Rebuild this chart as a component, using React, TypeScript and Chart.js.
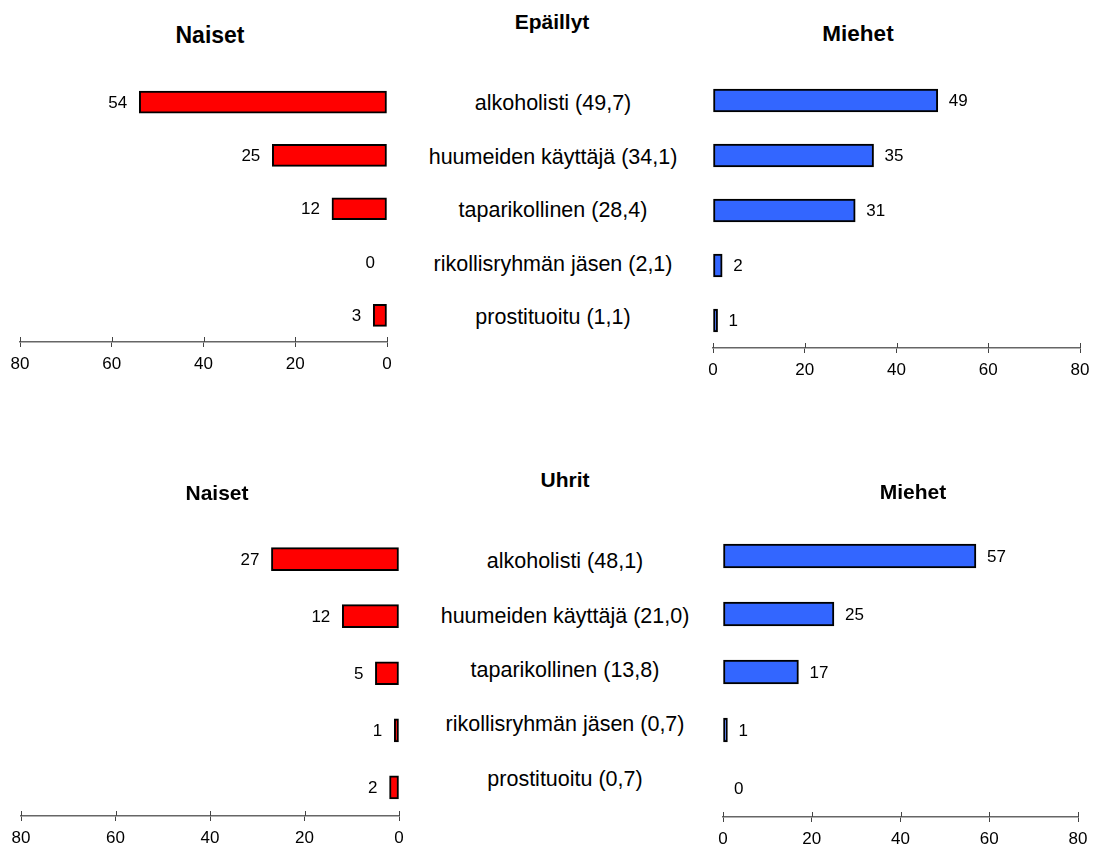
import React, { useEffect, useRef } from "react";
import { Chart, registerables } from "chart.js";

Chart.register(...registerables);

const categories = [
  "alkoholisti",
  "huumeiden käyttäjä",
  "taparikollinen",
  "rikollisryhmän jäsen",
  "prostituoitu",
];
const suspectsWomen = [54, 25, 12, 0, 3];
const suspectsMen = [49, 35, 31, 2, 1];
const suspectsShares = ["49,7", "34,1", "28,4", "2,1", "1,1"];
const victimsWomen = [27, 12, 5, 1, 2];
const victimsMen = [57, 25, 17, 1, 0];
const victimsShares = ["48,1", "21,0", "13,8", "0,7", "0,7"];
const axisMin = 0;
const axisMax = 80;
const axisStep = 20;

const FONT = "'Liberation Sans', Arial, Helvetica, sans-serif";
const RED = "#FF0000";
const BLUE = "#3366FF";

type Panel = {
  values: number[];
  color: string;
  reverse: boolean;
  canvas: { x: number; y: number; w: number; h: number };
  area: { left: number; right: number; top: number; bottom: number };
  thickness: number;
};

const AXIS_H = 28;

const valueLabels = {
  id: "valueLabels",
  afterDatasetsDraw(chart: any) {
    const ctx = chart.ctx;
    const meta = chart.getDatasetMeta(0);
    const data = chart.data.datasets[0].data as number[];
    const reverse = chart.options.scales.x.reverse;
    ctx.save();
    ctx.font = `17px ${FONT}`;
    ctx.fillStyle = "#000";
    ctx.textBaseline = "middle";
    meta.data.forEach((bar: any, i: number) => {
      if (reverse) {
        ctx.textAlign = "right";
        ctx.fillText(String(data[i]), bar.x - 12, bar.y + 1);
      } else {
        ctx.textAlign = "left";
        ctx.fillText(String(data[i]), bar.x + 11, bar.y + 1);
      }
    });
    ctx.restore();
  },
};

const tickUp = {
  id: "tickUp",
  afterDraw(chart: any) {
    const s = chart.scales.x;
    const ctx = chart.ctx;
    ctx.save();
    ctx.strokeStyle = "#444";
    ctx.lineWidth = 1;
    s.ticks.forEach((t: any) => {
      const px = Math.round(s.getPixelForValue(t.value)) + 0.5;
      ctx.beginPath();
      ctx.moveTo(px, s.top - 5);
      ctx.lineTo(px, s.top);
      ctx.stroke();
    });
    ctx.restore();
  },
};

function BarPanel({ p }: { p: Panel }) {
  const ref = useRef<HTMLCanvasElement>(null);
  useEffect(() => {
    if (!ref.current) return;
    const { canvas, area } = p;
    const chart = new Chart(ref.current, {
      type: "bar",
      data: {
        labels: categories,
        datasets: [
          {
            data: p.values,
            backgroundColor: p.color,
            borderColor: "#000",
            borderWidth: 2,
            borderSkipped: false,
            barThickness: p.thickness,
          },
        ],
      },
      options: {
        indexAxis: "y",
        responsive: false,
        animation: false,
        events: [],
        layout: {
          padding: {
            left: area.left - canvas.x,
            right: canvas.x + canvas.w - area.right,
            top: area.top - canvas.y,
            bottom: canvas.y + canvas.h - area.bottom - AXIS_H,
          },
        },
        plugins: {
          legend: { display: false },
          tooltip: { enabled: false },
          title: { display: false },
        },
        scales: {
          x: {
            min: axisMin,
            max: axisMax,
            reverse: p.reverse,
            ticks: {
              stepSize: axisStep,
              color: "#000",
              padding: 7,
              font: { family: FONT, size: 17 },
              maxRotation: 0,
            },
            grid: {
              drawOnChartArea: false,
              drawTicks: true,
              tickLength: 5,
              color: "#444",
              lineWidth: 1,
            },
            border: { display: true, color: "#666", width: 1.5 },
            afterFit: (s: any) => {
              s.height = AXIS_H;
            },
          },
          y: { display: false },
        },
      } as any,
      plugins: [valueLabels, tickUp],
    });
    return () => chart.destroy();
  }, [p]);
  return (
    <canvas
      ref={ref}
      width={p.canvas.w}
      height={p.canvas.h}
      style={{
        position: "absolute",
        left: p.canvas.x,
        top: p.canvas.y,
        width: p.canvas.w,
        height: p.canvas.h,
      }}
    />
  );
}

const panels: Panel[] = [
  {
    values: suspectsWomen,
    color: RED,
    reverse: true,
    canvas: { x: 0, y: 50, w: 420, h: 350 },
    area: { left: 20, right: 387, top: 75.5, bottom: 342 },
    thickness: 22,
  },
  {
    values: suspectsMen,
    color: BLUE,
    reverse: false,
    canvas: { x: 690, y: 50, w: 407, h: 350 },
    area: { left: 713, right: 1080, top: 73, bottom: 348 },
    thickness: 23,
  },
  {
    values: victimsWomen,
    color: RED,
    reverse: true,
    canvas: { x: 0, y: 500, w: 420, h: 346 },
    area: { left: 21, right: 399, top: 530.5, bottom: 816 },
    thickness: 23,
  },
  {
    values: victimsMen,
    color: BLUE,
    reverse: false,
    canvas: { x: 690, y: 500, w: 407, h: 346 },
    area: { left: 723, right: 1078, top: 527, bottom: 817 },
    thickness: 24,
  },
];

function Text({
  x,
  y,
  size,
  bold,
  children,
}: {
  x: number;
  y: number;
  size: number;
  bold?: boolean;
  children: React.ReactNode;
}) {
  return (
    <div
      style={{
        position: "absolute",
        left: x,
        top: y,
        transform: "translate(-50%, -50%)",
        fontFamily: FONT,
        fontSize: size,
        fontWeight: bold ? 700 : 400,
        lineHeight: 1,
        whiteSpace: "nowrap",
        color: "#000",
      }}
    >
      {children}
    </div>
  );
}

const topLabelYs = [104, 158, 211, 265, 318];
const bottomLabelYs = [562, 617, 671, 725, 780];

export default function App() {
  return (
    <div
      style={{
        position: "fixed",
        left: 0,
        top: 0,
        width: 1097,
        height: 846,
        overflow: "hidden",
        background: "#fff",
      }}
    >
      {panels.map((p, i) => (
        <BarPanel key={i} p={p} />
      ))}
      <Text x={210} y={35} size={23} bold>
        Naiset
      </Text>
      <Text x={552} y={21} size={21} bold>
        Epäillyt
      </Text>
      <Text x={858} y={34} size={22.5} bold>
        Miehet
      </Text>
      {categories.map((c, i) => (
        <Text key={"t" + i} x={553} y={topLabelYs[i]} size={21.5}>
          {`${c} (${suspectsShares[i]})`}
        </Text>
      ))}
      <Text x={217} y={492} size={21} bold>
        Naiset
      </Text>
      <Text x={565} y={479} size={21} bold>
        Uhrit
      </Text>
      <Text x={913} y={491} size={21} bold>
        Miehet
      </Text>
      {categories.map((c, i) => (
        <Text key={"b" + i} x={565} y={bottomLabelYs[i]} size={21.5}>
          {`${c} (${victimsShares[i]})`}
        </Text>
      ))}
    </div>
  );
}
